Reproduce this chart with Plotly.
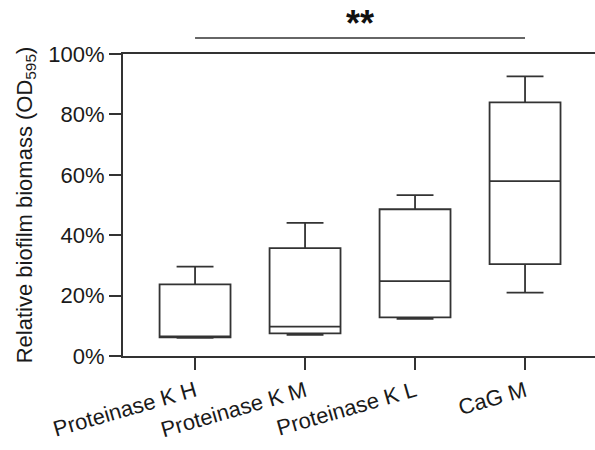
import plotly.graph_objects as go

categories = ["Proteinase K H", "Proteinase K M", "Proteinase K L", "CaG M"]
upper_whisker = [0.296, 0.441, 0.533, 0.926]
q3_values = [0.237, 0.357, 0.486, 0.840]
median_values = [0.065, 0.097, 0.248, 0.579]
q1_values = [0.062, 0.075, 0.128, 0.304]
lower_whisker = [0.060, 0.070, 0.123, 0.210]

y_ticks = [0, 0.2, 0.4, 0.6, 0.8, 1.0]
sig_label = "**"

FONT = "Liberation Sans, Arial, Helvetica, sans-serif"
INK = "#333333"
TEXT = "#1a1a1a"

fig = go.Figure()
fig.add_trace(go.Box(
    x=categories,
    q1=q1_values,
    median=median_values,
    q3=q3_values,
    lowerfence=lower_whisker,
    upperfence=upper_whisker,
    fillcolor="white",
    line=dict(color=INK, width=1.8),
    whiskerwidth=0.52,
    width=0.645,
    boxpoints=False,
    showlegend=False,
    hoverinfo="skip",
))

# significance bar
fig.add_shape(type="line", xref="x", yref="paper",
              x0=categories[0], x1=categories[3], y0=1.053, y1=1.053,
              line=dict(color=INK, width=1.6))
fig.add_annotation(x=1.5, xref="x", y=1.10, yref="paper", yanchor="middle",
                   text="<b>" + sig_label + "</b>", showarrow=False,
                   font=dict(family=FONT, size=36, color="#111111"))

fig.update_layout(
    width=595, height=450,
    margin=dict(l=123, r=0, t=54, b=94),
    paper_bgcolor="white", plot_bgcolor="white",
    font=dict(family=FONT, size=22, color=TEXT),
)
fig.update_xaxes(
    type="category",
    range=[-0.655, 3.636],
    automargin=False,
    showline=True, linecolor=INK, linewidth=2,
    mirror=True,
    ticks="outside", ticklen=12, tickwidth=2, tickcolor=INK,
    tickangle=-16,
    showgrid=False, zeroline=False,
    tickfont=dict(family=FONT, size=22, color=TEXT),
)
fig.update_yaxes(
    range=[0, 1.0],
    tickvals=y_ticks,
    tickformat=".0%",
    automargin=False,
    showline=True, linecolor=INK, linewidth=2,
    ticks="outside", ticklen=12, tickwidth=2, tickcolor=INK,
    showgrid=False, zeroline=False,
    tickfont=dict(family=FONT, size=22, color=TEXT),
    title=dict(text="Relative biofilm biomass (OD<sub>595</sub>)",
               font=dict(family=FONT, size=22, color=TEXT), standoff=10),
)

fig.write_html(
    "out.html",
    config={"displayModeBar": False},
    post_script="document.body.style.margin='0';document.body.style.overflow='hidden';",
)
